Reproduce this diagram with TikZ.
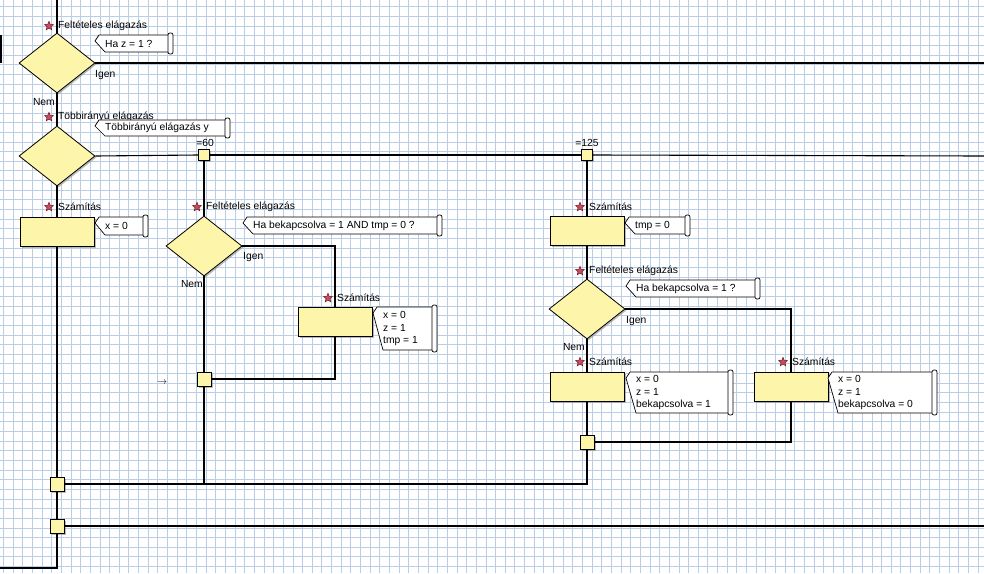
\documentclass[tikz,border=0pt]{standalone}
\usepackage{fontspec}
\setmainfont{Liberation Sans}
\usepackage{tikz}
\usetikzlibrary{shapes.geometric,shadows}
\definecolor{racskek}{RGB}{188,206,230}
\definecolor{elemsarga}{RGB}{253,246,170}
\definecolor{csillagpiros}{RGB}{205,75,95}
\definecolor{csillagszel}{RGB}{110,30,40}

% megjegyzes: nev, x0, y0, x1, y1, szoveg
\newcommand{\megj}[6]{%
  \draw[megjkeret] ({#2+4},#3) -- ({#4-3},#3) -- ({#4-3},#5) -- ({#2+10},#5) -- (#2,{#3+6}) -- cycle;
  \draw[megjkeret,rounded corners=2pt] ({#4-5},{#3-2}) rectangle (#4,{#5+2});
  \node[megjszoveg] (#1) at ({#2+10},{(#3+#5)/2}) {#6};
}

\begin{document}
\begin{tikzpicture}[x=1pt, y=-1pt,
  vonal/.style={line width=1.1pt},
  arnyek/.style={drop shadow={shadow xshift=1.5pt,shadow yshift=-1.5pt,fill=black!45,opacity=0.6}},
  dontes/.style={diamond, draw, line width=0.8pt, fill=elemsarga, minimum width=76pt, minimum height=60pt, inner sep=0pt, arnyek},
  szamitas/.style={rectangle, draw, line width=0.8pt, fill=elemsarga, minimum width=74pt, minimum height=29pt, inner sep=0pt, arnyek},
  csomo/.style={rectangle, draw, line width=0.8pt, fill=elemsarga, minimum size=14pt, inner sep=0pt, arnyek},
  kiscsomo/.style={csomo, minimum size=11pt},
  csillag/.style={star, star points=5, star point ratio=2.3, draw=csillagszel, fill=csillagpiros, line width=0.5pt, minimum size=9.5pt, inner sep=0pt},
  felirat/.style={font=\fontsize{10.3}{12.5}\selectfont, inner sep=0pt},
  megjkeret/.style={draw=black, line width=0.7pt, fill=white},
  megjszoveg/.style={felirat, anchor=west, align=left},
  racs/.style={draw=racskek, line width=0.55pt}
]
\fill[white] (0,0) rectangle (984,573);
\useasboundingbox (0,0) rectangle (984,573);
%--- racs ---
\foreach \i in {0,...,101}{
  \draw[racs] ({3.3+\i*9.65},0) -- ({3.3+\i*9.65},573);
}
\foreach \j in {0,...,59}{
  \draw[racs] (0,{6.7+\j*9.65}) -- (984,{6.7+\j*9.65});
}
\draw[line width=1.5pt] (0.75,35) -- (0.75,63);

%--- elemek ---
\node[dontes] (d1) at (57,63) {};
\node[dontes] (d2) at (57,156) {};
\node[dontes] (d3) at (204,246) {};
\node[dontes] (d4) at (587,309) {};
\node[szamitas] (b1) at (57,232) {};
\node[szamitas] (b2) at (335,322) {};
\node[szamitas] (b3) at (587,231) {};
\node[szamitas] (b4) at (587,387) {};
\node[szamitas] (b5) at (791,387) {};
\node[kiscsomo] (j60) at (204,155) {};
\node[kiscsomo] (j125) at (587,155) {};
\node[csomo] (jA) at (204,379) {};
\node[csomo] (jB) at (587,442) {};
\node[csomo] (jC) at (57,484) {};
\node[csomo] (jD) at (57,526) {};

%--- vonalak ---
\coordinate (fent) at (57,0);
\coordinate (jobb1) at (984,63);
\coordinate (jobb2) at (984,156);
\coordinate (jobb4) at (984,526);
\coordinate (balalso) at (0,568);
\coordinate (alja2) at (204,484);
\draw[vonal] (fent) -- (d1.north);
\draw[vonal] (d1.east) -- (jobb1);
\draw[vonal] (d1.south) -- (d2.north);
\draw[vonal] (d2.east) -- (j60.west);
\draw[vonal] (j60.east) -- (j125.west);
\draw[vonal] (j125.east) -- (jobb2);
\draw[vonal] (d2.south) -- (b1.north);
\draw[vonal] (b1.south) -- (jC.north);
\draw[vonal] (jC.south) -- (jD.north);
\draw[vonal] (jD.south) |- (balalso);
\draw[vonal] (jD.east) -- (jobb4);
\draw[vonal] (jC.east) -| (jB.south);
\draw[vonal] (j60.south) -- (d3.north);
\draw[vonal] (d3.east) -| (b2.north);
\draw[vonal] (d3.south) -- (jA.north);
\draw[vonal] (b2.south) |- (jA.east);
\draw[vonal] (jA.south) -- (alja2);
\draw[vonal] (j125.south) -- (b3.north);
\draw[vonal] (b3.south) -- (d4.north);
\draw[vonal] (d4.east) -| (b5.north);
\draw[vonal] (d4.south) -- (b4.north);
\draw[vonal] (b4.south) -- (jB.north);
\draw[vonal] (b5.south) |- (jB.east);

%--- cimkek ---
\foreach \x/\y/\szoveg [count=\i] in {49/26/Feltételes elágazás, 49/117/Többirányú elágazás,
  49/207/Számítás, 197/207/Feltételes elágazás, 328/298/Számítás, 580/207/Számítás,
  580/271/Feltételes elágazás, 580/362/Számítás, 783/362/Számítás}{
  \node[csillag] (cs\i) at (\x,\y) {};
  \node[felirat, anchor=west] (cim\i) at (\x+9,\y) {\szoveg};
}
\node[felirat, anchor=west] (igen1) at (95,75) {Igen};
\node[felirat, anchor=west] (igen3) at (243,257) {Igen};
\node[felirat, anchor=west] (igen4) at (626,321) {Igen};
\node[felirat, anchor=east] (nem1) at (55,102) {Nem};
\node[felirat, anchor=east] (nem3) at (203,284) {Nem};
\node[felirat, anchor=east] (nem4) at (585,347) {Nem};
\node[felirat] (ag60) at (205,143) {=60};
\node[felirat] (ag125) at (587,143) {=125};
\node[felirat] (nyil) at (162,383) {$\rightarrow$};

%--- megjegyzesek ---
\megj{m1}{95}{35}{173}{52}{Ha z = 1 ?}
\megj{m2}{95}{120}{230}{136}{Többirányú elágazás y}
\megj{m3}{95}{217}{148}{235}{x = 0}
\megj{m4}{243}{217}{442}{234}{Ha bekapcsolva = 1 AND tmp = 0 ?}
\megj{m5}{373}{307}{437}{350}{x = 0\\ z = 1\\ tmp = 1}
\megj{m6}{625}{217}{690}{234}{tmp = 0}
\megj{m7}{626}{280}{760}{297}{Ha bekapcsolva = 1 ?}
\megj{m8}{626}{372}{733}{413}{x = 0\\ z = 1\\ bekapcsolva = 1}
\megj{m9}{828}{372}{937}{413}{x = 0\\ z = 1\\ bekapcsolva = 0}
\end{tikzpicture}
\end{document}
